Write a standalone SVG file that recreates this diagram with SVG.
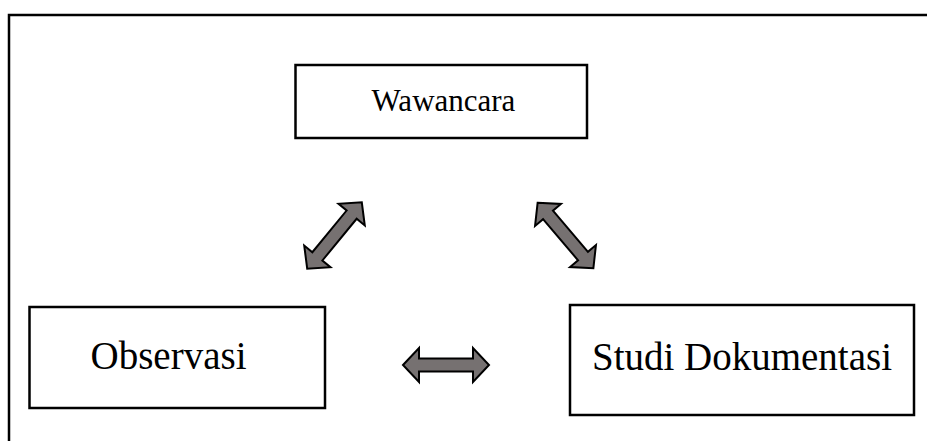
<svg xmlns="http://www.w3.org/2000/svg" xmlns:xlink="http://www.w3.org/1999/xlink" width="927" height="441" viewBox="0 0 927 441">
<style>
.frame{fill:none;stroke:#000;stroke-width:2.5}
.box{fill:#fff;stroke:#000;stroke-width:2.5}
.lbl{font-family:"Liberation Serif","Times New Roman",serif;fill:#000;text-anchor:middle}
.top{font-size:31px}
.low{font-size:39px}
.arr{fill:#767171;stroke:#000;stroke-width:2;stroke-linejoin:miter}
</style>
<defs>
<path id="dbl" d="M -43,0 L -27,-17 L -27,-6.5 L 27,-6.5 L 27,-17 L 43,0 L 27,17 L 27,6.5 L -27,6.5 L -27,17 Z"/>
</defs>
<rect width="927" height="441" fill="#fff"/>
<path class="frame" d="M 9,441 L 9,15 L 927,15"/>
<g id="wawancara">
<rect class="box" x="295.5" y="65" width="291.5" height="73"/>
<text class="lbl top" x="443.5" y="111">Wawancara</text>
</g>
<g id="observasi">
<rect class="box" x="29.5" y="307" width="295.5" height="101"/>
<text class="lbl low" x="168.5" y="369">Observasi</text>
</g>
<g id="studi">
<rect class="box" x="570" y="305" width="344" height="110"/>
<text class="lbl low" x="742" y="370">Studi Dokumentasi</text>
</g>
<g id="connectors">
<use class="arr" xlink:href="#dbl" transform="translate(334.5,235.5) rotate(-50.6)"/>
<use class="arr" xlink:href="#dbl" transform="translate(565.5,235.5) rotate(49.6)"/>
<use class="arr" xlink:href="#dbl" transform="translate(446,365)"/>
</g>
</svg>
